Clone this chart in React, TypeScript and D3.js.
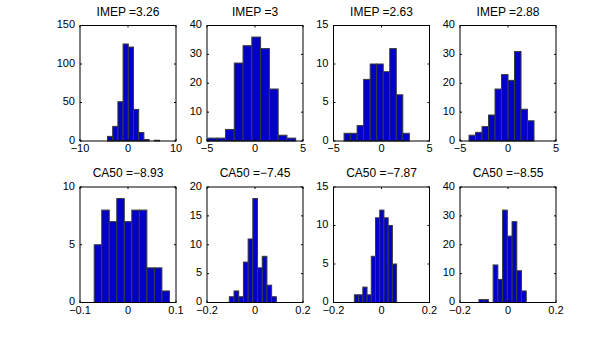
import * as d3 from "d3";

// histogram counts (10 bins each)
const imepTitles = ["IMEP =3.26", "IMEP =3", "IMEP =2.63", "IMEP =2.88"];
const ca50Titles = ["CA50 =\u22128.93", "CA50 =\u22127.45", "CA50 =\u22127.87", "CA50 =\u22128.55"];

const imepCounts = [
  [6, 19, 51, 126, 122, 41, 11, 2, 0, 1],
  [1, 1, 4, 27, 33, 36, 32, 18, 2, 1],
  [1, 1, 2, 8, 10, 10, 9, 12, 6, 1],
  [2, 3, 5, 9, 18, 23, 21, 31, 11, 7],
];
const ca50Counts = [
  [5, 8, 7, 9, 7, 8, 8, 3, 3, 1],
  [1, 2, 1, 7, 11, 18, 6, 8, 3, 1],
  [1, 1, 2, 1, 6, 11, 12, 11, 10, 5],
  [1, 1, 0, 13, 8, 32, 23, 28, 11, 4],
];

// data range [min, max] of each histogram
const imepRange = [
  [-4.27, 6.56],
  [-4.9, 4.24],
  [-3.9, 2.9],
  [-4.06, 2.71],
];
const ca50Range = [
  [-0.0704, 0.0863],
  [-0.107, 0.0889],
  [-0.113, 0.063],
  [-0.121, 0.076],
];

const imepXDomain = [[-10, 10], [-5, 5], [-5, 5], [-5, 5]];
const ca50XDomain = [[-0.1, 0.1], [-0.2, 0.2], [-0.2, 0.2], [-0.2, 0.2]];
const imepXTicks = [[-10, 0, 10], [-5, 0, 5], [-5, 0, 5], [-5, 0, 5]];
const ca50XTicks = [[-0.1, 0, 0.1], [-0.2, 0, 0.2], [-0.2, 0, 0.2], [-0.2, 0, 0.2]];
const imepYMax = [150, 40, 15, 40];
const ca50YMax = [10, 20, 15, 40];
const imepYTicks = [[0, 50, 100, 150], [0, 10, 20, 30, 40], [0, 5, 10, 15], [0, 10, 20, 30, 40]];
const ca50YTicks = [[0, 5, 10], [0, 5, 10, 15, 20], [0, 5, 10, 15], [0, 10, 20, 30, 40]];

const W = 615;
const H = 341;
const colLeft = [80, 207, 333.5, 460];
const axW = 96;
const rowTop = [25.5, 187];
const axH = 115.5;
const font = "'Liberation Sans', Arial, Helvetica, sans-serif";

const fmt = (v: number) => String(v).replace("-", "\u2212");

function Panel({ left, top, title, counts, range, xDomain, xTicks, yMax, yTicks }: any) {
  const x = d3.scaleLinear().domain(xDomain).range([left, left + axW]);
  const y = d3.scaleLinear().domain([0, yMax]).range([top + axH, top]);
  const n = counts.length;
  const step = (range[1] - range[0]) / n;
  const tl = 2;
  const [x0, x1] = x.range();
  const [y0, y1] = y.range();
  return (
    <g>
      <text x={(x0 + x1) / 2} y={top - 10} textAnchor="middle" fontSize={12} fontFamily={font}>
        {title}
      </text>
      {counts.map((c: number, i: number) => {
        if (c === 0) return null;
        const a = x(range[0] + i * step);
        const b = x(range[0] + (i + 1) * step);
        return (
          <rect key={i} x={a} y={y(c)} width={b - a} height={y0 - y(c)}
            fill="#0000c8" stroke="#3a3a3a" strokeWidth={1} />
        );
      })}
      <rect x={x0} y={y1} width={x1 - x0} height={y0 - y1} fill="none" stroke="#000" strokeWidth={1} />
      {xTicks.map((t: number) => (
        <g key={"x" + t}>
          <line x1={x(t)} x2={x(t)} y1={y0} y2={y0 - tl} stroke="#000" />
          <line x1={x(t)} x2={x(t)} y1={y1} y2={y1 + tl} stroke="#000" />
          <text x={x(t)} y={y0 + 11} textAnchor="middle" fontSize={11} fontFamily={font}>
            {fmt(t)}
          </text>
        </g>
      ))}
      {yTicks.map((t: number) => (
        <g key={"y" + t}>
          <line x1={x0} x2={x0 + tl} y1={y(t)} y2={y(t)} stroke="#000" />
          <line x1={x1} x2={x1 - tl} y1={y(t)} y2={y(t)} stroke="#000" />
          <text x={x0 - 5} y={y(t)} dy="0.25em" textAnchor="end" fontSize={11} fontFamily={font}>
            {fmt(t)}
          </text>
        </g>
      ))}
    </g>
  );
}

export default function App() {
  return (
    <svg width={W} height={H} style={{ position: "absolute", left: 0, top: 0, background: "#fff" }}>
      {imepCounts.map((c, i) => (
        <Panel key={"i" + i} left={colLeft[i]} top={rowTop[0]} title={imepTitles[i]} counts={c}
          range={imepRange[i]} xDomain={imepXDomain[i]} xTicks={imepXTicks[i]}
          yMax={imepYMax[i]} yTicks={imepYTicks[i]} />
      ))}
      {ca50Counts.map((c, i) => (
        <Panel key={"c" + i} left={colLeft[i]} top={rowTop[1]} title={ca50Titles[i]} counts={c}
          range={ca50Range[i]} xDomain={ca50XDomain[i]} xTicks={ca50XTicks[i]}
          yMax={ca50YMax[i]} yTicks={ca50YTicks[i]} />
      ))}
    </svg>
  );
}
